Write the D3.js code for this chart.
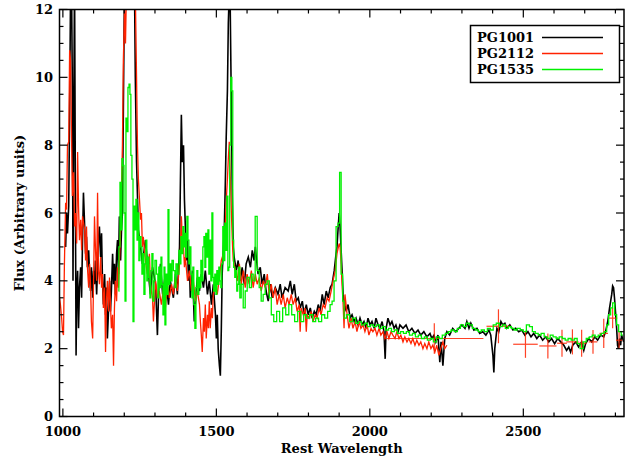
<!DOCTYPE html>
<html>
<head>
<meta charset="utf-8">
<script src="https://cdn.jsdelivr.net/npm/d3@7"></script>
<style>
  body { margin: 0; background: #fff; }
  svg text { font-family: "DejaVu Serif", serif; font-weight: bold; }
</style>
</head>
<body>
<svg id="chart"></svg>
<script>
const WIDTH = 625;
const HEIGHT = 457;

// axis settings
const xDomain = [989, 2828];
const yDomain = [0, 12];
const xMajor = [1000, 1500, 2000, 2500];
const yMajor = [0, 2, 4, 6, 8, 10, 12];

const seriesNames = ["PG1001", "PG2112", "PG1535"];

// PG1001 [rest wavelength, flux]
const pg1001 = [
  [1009,5.0],[1012,6.0],[1015,5.4],[1019,6.2],[1022,9.0],[1025,12.5],[1028,13],[1031,9.5],[1033,4.0],[1035,8],
  [1038,13],[1041,6],[1043,1.8],[1045,3.5],[1048,4.3],[1051,2.6],[1054,3.8],[1058,4.4],[1061,3.5],[1064,5.2],
  [1067,6.6],[1071,5.6],[1074,4.8],[1077,5.3],[1080,4.4],[1084,4.9],[1087,4.2],[1090,3.7],[1093,4.4],[1097,3.5],
  [1100,4.3],[1103,3.9],[1106,4.6],[1110,3.6],[1113,4.4],[1116,5.2],[1119,5.6],[1123,4.7],[1126,5.4],[1129,4.0],
  [1132,3.3],[1136,4.2],[1139,3.0],[1142,3.8],[1145,2.3],[1149,3.2],[1152,4.0],[1155,3.1],[1158,3.7],[1162,4.8],
  [1165,3.9],[1168,4.5],[1171,3.6],[1175,4.8],[1178,5.2],[1181,4.2],[1184,5.9],[1188,4.6],[1191,5.5],[1194,6.0],
  [1197,9.0],[1201,13],[1233,13],[1236,10],[1240,7.5],[1243,6.5],[1246,5.5],[1253,5.0],[1259,4.5],[1269,5.2],
  [1279,4.2],[1285,3.6],[1292,4.4],[1302,3.9],[1308,2.4],[1313,4.0],[1318,4.5],[1325,3.6],[1334,4.2],[1344,3.3],
  [1350,4.0],[1360,3.5],[1367,4.2],[1373,3.6],[1380,5.0],[1383,7.0],[1386,8.9],[1389,7.5],[1393,8.0],[1396,6.4],
  [1399,5.6],[1402,4.6],[1406,5.2],[1409,4.0],[1412,4.6],[1415,3.5],[1422,4.3],[1425,3.6],[1428,2.8],[1432,3.4],
  [1438,4.1],[1445,3.7],[1451,4.2],[1458,3.8],[1464,4.3],[1471,3.6],[1477,4.0],[1484,3.3],[1490,3.9],[1497,3.0],
  [1500,2.3],[1503,3.0],[1506,2.0],[1510,1.5],[1513,1.2],[1516,2.5],[1519,4.2],[1523,5.0],[1526,5.6],[1529,6.8],
  [1532,8.2],[1536,9.6],[1539,11.6],[1542,12.5],[1545,12.2],[1549,9.0],[1552,6.5],[1555,5.0],[1558,4.7],[1565,4.3],
  [1571,4.6],[1578,4.0],[1584,4.4],[1591,3.9],[1597,4.5],[1604,4.7],[1611,4.4],[1617,4.9],[1623,4.6],[1627,5.0],
  [1630,4.7],[1636,4.2],[1643,4.4],[1649,3.9],[1656,4.2],[1662,3.7],[1669,3.4],[1676,3.9],[1682,3.5],[1692,3.8],
  [1701,3.6],[1708,3.9],[1714,3.5],[1724,3.8],[1734,3.7],[1741,4.0],[1747,3.6],[1754,3.9],[1760,3.4],[1767,3.5],
  [1773,3.2],[1780,3.4],[1786,3.0],[1793,3.3],[1799,3.0],[1806,3.2],[1812,2.9],[1819,3.1],[1825,3.0],[1832,3.3],
  [1838,3.1],[1845,3.6],[1851,3.3],[1858,3.7],[1864,3.5],[1871,3.8],[1877,3.9],[1884,4.3],[1890,4.8],[1893,5.0],
  [1897,5.6],[1900,6.0],[1903,5.6],[1906,5.0],[1910,4.2],[1913,3.6],[1916,3.4],[1923,3.1],[1929,3.3],[1936,2.9],
  [1942,3.0],[1949,2.8],[1955,2.9],[1962,2.7],[1968,2.9],[1975,2.7],[1981,2.8],[1988,2.6],[1994,2.9],[2001,2.7],
  [2007,2.8],[2014,2.6],[2020,2.9],[2027,2.7],[2033,2.6],[2040,2.8],[2046,2.5],[2050,1.7],[2053,2.6],[2059,2.9],
  [2066,2.7],[2072,2.8],[2079,2.6],[2085,2.7],[2092,2.5],[2098,2.7],[2108,2.6],[2118,2.7],[2127,2.5],[2137,2.6],
  [2147,2.45],[2157,2.55],[2166,2.4],[2176,2.5],[2186,2.35],[2196,2.45],[2202,2.3],[2209,2.4],[2215,2.2],[2222,2.4],
  [2228,1.6],[2232,2.2],[2238,1.5],[2244,2.3],[2251,2.5],[2260,2.4],[2270,2.6],[2280,2.5],[2290,2.6],[2300,2.7],
  [2310,2.6],[2316,2.8],[2323,2.6],[2329,2.75],[2339,2.55],[2349,2.6],[2358,2.45],[2368,2.5],[2378,2.4],[2388,2.55],
  [2394,2.4],[2401,1.8],[2404,1.3],[2407,2.0],[2414,2.6],[2420,2.5],[2427,2.8],[2433,2.7],[2440,2.75],[2446,2.6],
  [2456,2.7],[2466,2.55],[2475,2.6],[2485,2.5],[2495,2.55],[2505,2.4],[2515,2.5],[2525,2.35],[2534,2.45],[2544,2.3],
  [2553,2.4],[2563,2.25],[2573,2.35],[2583,2.2],[2592,2.3],[2602,2.15],[2612,2.3],[2622,2.2],[2632,2.1],[2641,1.95],
  [2648,2.05],[2654,1.9],[2661,2.1],[2671,2.2],[2680,2.05],[2690,2.2],[2697,1.95],[2703,2.15],[2713,2.3],[2723,2.2],
  [2733,2.35],[2742,2.25],[2752,2.4],[2762,2.35],[2768,2.5],[2775,2.8],[2781,3.2],[2788,3.6],[2791,3.85],[2794,3.8],
  [2797,3.5],[2801,3.0],[2804,2.6],[2807,2.1],[2810,2.0],[2814,2.3],[2817,2.1],[2820,2.4],[2827,2.2]
];

// PG2112 [rest wavelength, flux]
const pg2112 = [
  [989,3.5],[992,3.3],[996,2.9],[999,2.5],[1002,2.4],[1005,4.5],[1009,6.3],[1012,6.1],[1015,8.0],[1019,8.1],
  [1022,10.8],[1025,10.5],[1028,8.4],[1031,6.5],[1035,7.2],[1038,5.6],[1041,6.0],[1045,5.1],[1048,7.8],[1051,6.2],
  [1054,5.2],[1058,5.8],[1061,4.9],[1064,5.9],[1071,5.5],[1074,4.6],[1077,5.6],[1080,4.4],[1084,3.8],[1087,4.5],
  [1090,3.9],[1093,2.8],[1097,2.3],[1100,4.0],[1103,5.9],[1106,5.0],[1110,4.0],[1113,6.6],[1116,4.3],[1119,3.9],
  [1123,4.7],[1126,3.8],[1129,4.2],[1132,3.2],[1136,3.8],[1139,1.9],[1142,3.4],[1145,4.0],[1149,3.1],[1152,4.1],
  [1155,3.3],[1158,2.6],[1162,3.0],[1165,1.5],[1168,3.2],[1171,4.0],[1175,3.4],[1178,4.4],[1181,3.8],[1184,4.5],
  [1188,5.5],[1191,6.8],[1194,8.0],[1197,10.5],[1201,12.0],[1204,11.0],[1207,12.5],[1233,12.5],[1236,12.5],[1240,10.0],
  [1243,8.0],[1246,7.0],[1249,6.5],[1253,5.8],[1256,6.0],[1259,5.0],[1262,5.3],[1269,4.6],[1275,4.2],[1282,4.8],
  [1285,3.9],[1292,3.5],[1295,2.8],[1302,4.0],[1308,3.5],[1314,3.7],[1321,3.3],[1328,3.8],[1334,3.2],[1341,3.9],
  [1347,3.5],[1354,3.9],[1360,3.6],[1367,4.1],[1373,3.7],[1380,4.5],[1383,4.9],[1386,5.9],[1389,5.3],[1393,5.0],
  [1396,4.4],[1399,4.7],[1406,4.0],[1412,4.3],[1419,3.7],[1425,4.0],[1432,3.4],[1438,3.7],[1445,3.3],[1448,2.8],
  [1451,2.4],[1454,1.9],[1458,2.9],[1461,2.5],[1464,3.3],[1467,2.3],[1471,3.0],[1474,2.6],[1477,3.4],[1480,2.6],
  [1484,3.2],[1487,2.9],[1490,3.6],[1497,3.9],[1503,3.6],[1510,4.1],[1516,4.6],[1523,4.8],[1526,5.3],[1529,5.6],
  [1532,6.3],[1536,7.0],[1539,7.6],[1542,8.1],[1545,7.2],[1549,6.0],[1552,5.2],[1555,4.6],[1562,4.3],[1568,4.0],
  [1575,4.5],[1581,3.9],[1588,4.3],[1594,3.8],[1600,4.2],[1607,3.9],[1614,4.3],[1620,3.8],[1627,4.2],[1633,3.9],
  [1640,4.1],[1646,3.7],[1653,4.0],[1659,3.8],[1666,4.2],[1672,3.6],[1679,3.9],[1685,3.5],[1692,3.8],[1698,3.3],
  [1705,3.6],[1711,3.3],[1718,3.6],[1724,3.2],[1731,3.5],[1737,3.3],[1744,3.6],[1750,3.3],[1757,3.5],[1763,3.1],
  [1770,3.3],[1773,2.5],[1776,3.2],[1783,3.0],[1789,3.2],[1793,2.5],[1796,3.0],[1802,2.9],[1809,3.1],[1815,2.8],
  [1822,3.0],[1828,2.9],[1835,3.2],[1841,3.0],[1848,3.3],[1854,3.2],[1861,3.5],[1867,3.4],[1874,3.7],[1880,4.0],
  [1887,4.3],[1893,4.8],[1900,5.1],[1903,5.0],[1906,4.6],[1910,3.8],[1913,3.3],[1916,2.6],[1919,3.6],[1926,3.0],
  [1932,2.6],[1939,2.9],[1945,2.6],[1952,2.8],[1958,2.5],[1965,2.8],[1971,2.6],[1978,2.7],[1984,2.5],[1991,2.7],
  [1997,2.4],[2004,2.6],[2010,2.5],[2017,2.6],[2023,2.4],[2030,2.6],[2036,2.4],[2043,2.5],[2049,2.3],[2056,2.5],
  [2062,2.3],[2069,2.5],[2075,2.4],[2082,2.3],[2088,2.5],[2095,2.3],[2101,2.4],[2108,2.2],[2114,2.35],[2121,2.2],
  [2127,2.3],[2134,2.15],[2140,2.3],[2147,2.1],[2153,2.25],[2160,2.1],[2166,2.2],[2173,2.0],[2179,2.15],[2186,2.0],
  [2192,2.2],[2199,2.0],[2205,2.1],[2212,1.9],[2218,2.1],[2225,1.8],[2231,2.0],[2238,2.2],[2244,2.0],[2251,2.1]
];

// PG2112 binned points: [centre, flux, half bin width, error]
const pg2112Bins = [
  [2210, 2.3, 160, 0.45],
  [2419, 2.66, 39, 0.5],
  [2507, 2.13, 40, 0.4],
  [2580, 2.08, 28, 0.37],
  [2626, 2.16, 16, 0.4],
  [2660, 2.2, 20, 0.37],
  [2690, 2.16, 16, 0.4],
  [2727, 2.2, 14, 0.35],
  [2762, 2.45, 14, 0.43],
  [2791, 2.9, 15, 0.3],
  [2812, 2.25, 10, 0.25]
];

// PG1535 [rest wavelength, flux] (binned spectrum)
const pg1535 = [
  [1181,3.7],[1184,5.0],[1188,6.9],[1191,5.5],[1194,7.6],[1197,7.4],[1201,6.0],[1204,3.4],[1207,8.8],[1210,8.4],
  [1214,9.7],[1217,9.8],[1220,9.5],[1223,7.7],[1227,7.0],[1230,2.8],[1233,6.2],[1236,5.5],[1240,6.4],[1243,5.2],
  [1246,6.0],[1249,4.6],[1253,5.3],[1256,5.0],[1259,4.2],[1262,4.8],[1266,3.6],[1269,4.5],[1272,5.2],[1275,4.0],
  [1279,4.7],[1282,4.1],[1285,3.5],[1288,4.3],[1292,4.8],[1295,3.4],[1298,4.0],[1302,4.6],[1308,4.2],[1311,3.5],
  [1314,4.4],[1318,3.8],[1321,4.7],[1324,3.9],[1328,3.0],[1331,4.4],[1334,2.7],[1337,4.2],[1341,3.6],[1344,6.1],
  [1347,3.9],[1350,4.5],[1354,4.0],[1357,4.6],[1363,4.3],[1367,3.8],[1370,4.5],[1376,4.2],[1380,4.9],[1383,4.5],
  [1386,5.3],[1389,4.8],[1393,5.6],[1396,5.0],[1399,5.4],[1402,4.7],[1406,5.9],[1409,5.2],[1412,4.5],[1415,5.0],
  [1419,4.2],[1422,3.5],[1425,4.4],[1428,3.3],[1432,2.6],[1435,3.8],[1438,4.3],[1441,3.6],[1445,4.1],[1448,3.8],
  [1451,4.6],[1454,4.0],[1458,5.0],[1461,5.3],[1464,4.4],[1467,5.4],[1471,4.7],[1474,5.5],[1477,4.2],[1480,5.2],
  [1484,4.0],[1487,6.0],[1490,4.1],[1493,3.7],[1497,4.2],[1500,3.6],[1503,4.3],[1506,3.9],[1510,4.4],[1513,4.0],
  [1516,3.8],[1519,4.5],[1523,5.6],[1526,4.6],[1529,5.7],[1532,4.9],[1536,6.5],[1539,4.3],[1542,4.4],[1545,8.0],
  [1549,10.0],[1552,9.6],[1555,5.2],[1558,4.4],[1562,4.1],[1565,4.3],[1568,3.7],[1571,3.9],[1575,4.4],[1578,3.5],
  [1584,3.9],[1591,3.2],[1597,3.7],[1604,4.1],[1611,3.8],[1617,4.2],[1623,4.0],[1630,5.9],[1636,4.3],[1643,3.8],
  [1649,3.4],[1656,3.6],[1662,3.9],[1669,4.0],[1676,3.5],[1682,3.0],[1692,2.8],[1701,3.1],[1711,2.8],[1721,3.2],
  [1731,3.0],[1741,3.3],[1750,3.0],[1760,2.8],[1770,3.1],[1780,2.8],[1789,3.0],[1799,2.9],[1809,3.0],[1819,2.8],
  [1828,2.9],[1838,2.8],[1848,3.0],[1858,2.9],[1867,3.1],[1874,3.3],[1880,3.4],[1887,4.0],[1893,5.6],[1900,5.7],
  [1903,7.2],[1910,4.2],[1913,3.4],[1919,2.9],[1929,3.0],[1939,2.8],[1949,2.9],[1958,2.75],[1968,2.8],[1978,2.7],
  [1988,2.75],[1997,2.65],[2007,2.7],[2017,2.65],[2027,2.7],[2036,2.6],[2046,2.65],[2056,2.55],[2066,2.6],[2075,2.5],
  [2085,2.55],[2095,2.45],[2105,2.5],[2114,2.45],[2124,2.5],[2134,2.4],[2144,2.45],[2153,2.35],[2163,2.4],[2173,2.3],
  [2183,2.35],[2192,2.25],[2202,2.3],[2212,2.2],[2222,2.35],[2231,2.3],[2241,2.4],[2251,2.45],[2260,2.5],[2270,2.55],
  [2280,2.5],[2290,2.6],[2300,2.7],[2310,2.65],[2319,2.75],[2329,2.7],[2339,2.6],[2349,2.55],[2358,2.5],[2368,2.55],
  [2378,2.5],[2388,2.6],[2397,2.55],[2407,2.7],[2417,2.75],[2427,2.65],[2437,2.7],[2446,2.6],[2456,2.65],[2466,2.6],
  [2475,2.55],[2485,2.6],[2495,2.55],[2505,2.5],[2515,2.7],[2525,2.65],[2534,2.5],[2544,2.45],[2553,2.4],[2563,2.45],
  [2573,2.35],[2583,2.3],[2592,2.4],[2602,2.35],[2612,2.3],[2622,2.35],[2632,2.3],[2641,2.25],[2651,2.3],[2661,2.25],
  [2671,2.3],[2680,2.15],[2690,2.0],[2700,2.2],[2710,2.3],[2720,2.35],[2729,2.4],[2739,2.35],[2749,2.4],[2759,2.45],
  [2768,2.5],[2775,2.7],[2781,3.0],[2788,3.2],[2794,3.35],[2801,3.0],[2807,2.7],[2814,2.5],[2824,2.4]
];

const colors = {PG1001: "#000000", PG2112: "#ff2200", PG1535: "#00f000"};

const plot = {left: 59.5, right: 624, top: 9.5, bottom: 416.5};

const svg = d3.select("#chart").attr("width", WIDTH).attr("height", HEIGHT);

const x = d3.scaleLinear().domain(xDomain).range([plot.left, plot.right]);
const y = d3.scaleLinear().domain(yDomain).range([plot.bottom, plot.top]);

svg.append("defs").append("clipPath").attr("id", "clip")
  .append("rect")
  .attr("x", plot.left).attr("y", plot.top)
  .attr("width", plot.right - plot.left).attr("height", plot.bottom - plot.top);

const g = svg.append("g").attr("clip-path", "url(#clip)");

const line = d3.line().x(d => x(d[0])).y(d => y(d[1]));
const stepLine = d3.line().x(d => x(d[0])).y(d => y(d[1])).curve(d3.curveStep);

g.append("path").datum(pg1001)
  .attr("d", line)
  .attr("fill", "none").attr("stroke", colors.PG1001).attr("stroke-width", 1.6);

g.append("path").datum(pg2112)
  .attr("d", line)
  .attr("fill", "none").attr("stroke", colors.PG2112).attr("stroke-width", 1.3);

// error crosses for the binned PG2112 points
const cross = g.append("g").attr("stroke", colors.PG2112).attr("stroke-width", 1.2).attr("opacity", 0.85);
cross.selectAll(".h").data(pg2112Bins).enter().append("line")
  .attr("x1", d => x(d[0] - d[2])).attr("x2", d => x(d[0] + d[2]))
  .attr("y1", d => y(d[1])).attr("y2", d => y(d[1]));
cross.selectAll(".v").data(pg2112Bins).enter().append("line")
  .attr("x1", d => x(d[0])).attr("x2", d => x(d[0]))
  .attr("y1", d => y(d[1] - d[3])).attr("y2", d => y(d[1] + d[3]));

g.append("path").datum(pg1535)
  .attr("d", stepLine)
  .attr("fill", "none").attr("stroke", colors.PG1535).attr("stroke-width", 1.3);

// frame
svg.append("rect")
  .attr("x", plot.left).attr("y", plot.top)
  .attr("width", plot.right - plot.left).attr("height", plot.bottom - plot.top)
  .attr("fill", "none").attr("stroke", "#000").attr("stroke-width", 1.5);

// ticks on all four sides, pointing inward
const xMinor = d3.range(1000, 2900, 100).filter(v => v <= xDomain[1]);
const yMinor = d3.range(0, 12.01, 0.5);
const axes = svg.append("g").attr("stroke", "#000").attr("stroke-width", 1.2);

xMinor.forEach(v => {
  const len = xMajor.includes(v) ? 8 : 4;
  axes.append("line").attr("x1", x(v)).attr("x2", x(v)).attr("y1", plot.bottom).attr("y2", plot.bottom - len);
  axes.append("line").attr("x1", x(v)).attr("x2", x(v)).attr("y1", plot.top).attr("y2", plot.top + len);
});
yMinor.forEach(v => {
  const len = yMajor.includes(v) ? 8 : 4;
  axes.append("line").attr("y1", y(v)).attr("y2", y(v)).attr("x1", plot.left).attr("x2", plot.left + len);
  axes.append("line").attr("y1", y(v)).attr("y2", y(v)).attr("x1", plot.right).attr("x2", plot.right - len);
});

svg.selectAll(".xlab").data(xMajor).enter().append("text")
  .attr("x", d => x(d)).attr("y", 436)
  .attr("text-anchor", "middle").attr("font-size", 13)
  .text(d => d);

svg.selectAll(".ylab").data(yMajor).enter().append("text")
  .attr("x", 53).attr("y", d => y(d) + 4.5)
  .attr("text-anchor", "end").attr("font-size", 13)
  .text(d => d);

svg.append("text")
  .attr("x", (plot.left + plot.right) / 2).attr("y", 453)
  .attr("text-anchor", "middle").attr("font-size", 13)
  .text("Rest Wavelength");

svg.append("text")
  .attr("transform", "translate(24," + ((plot.top + plot.bottom) / 2) + ") rotate(-90)")
  .attr("text-anchor", "middle").attr("font-size", 13)
  .text("Flux (Arbitrary units)");

// legend
const legend = svg.append("g");
legend.append("rect")
  .attr("x", 470.5).attr("y", 25.5).attr("width", 149).attr("height", 57)
  .attr("fill", "#fff").attr("stroke", "#000").attr("stroke-width", 1.5);
seriesNames.forEach((name, i) => {
  legend.append("text")
    .attr("x", 477).attr("y", 41.5 + i * 16)
    .attr("font-size", 13)
    .text(name);
  legend.append("line")
    .attr("x1", 542).attr("x2", 603)
    .attr("y1", 37.5 + i * 16).attr("y2", 37.5 + i * 16)
    .attr("stroke", colors[name]).attr("stroke-width", 1.3);
});
</script>
</body>
</html>
